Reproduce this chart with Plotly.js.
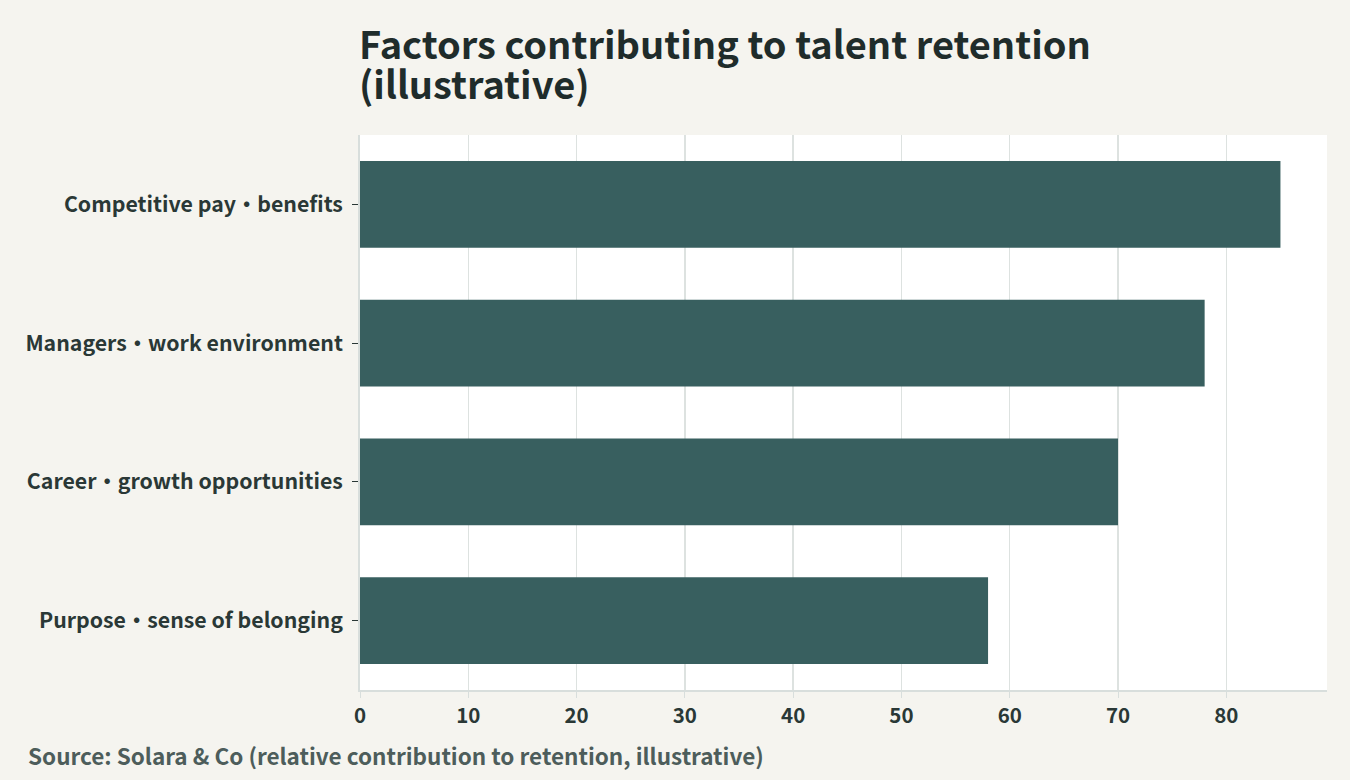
<!DOCTYPE html>
<html>
<head>
<meta charset="utf-8">
<script src="https://cdn.plot.ly/plotly-3.0.1.min.js"></script>
<style>
  html, body { margin: 0; padding: 0; background: #f5f4ef; }
  #chart { width: 1350px; height: 780px; }
</style>
</head>
<body>
<div id="chart"></div>
<script>
// factors, top to bottom as shown
var factors = [
  'Competitive pay・benefits',
  'Managers・work environment',
  'Career・growth opportunities',
  'Purpose・sense of belonging'
];
var contribution = [85, 78, 70, 58];
var tickVals = [0, 10, 20, 30, 40, 50, 60, 70, 80];
// title split in two lines, the reference sets them tighter than plotly's <br>
var titleLines = ['Factors contributing to talent retention', '(illustrative)'];

var FONT = '"Noto Sans CJK JP", "Source Sans Pro", "Noto Sans", sans-serif';

var trace = {
  type: 'bar',
  orientation: 'h',
  x: contribution,
  y: factors,
  marker: { color: '#385f5f' },
  hoverinfo: 'x+y'
};

var titleFont = { family: FONT, size: 38, color: '#1f2c2b' };

var layout = {
  width: 1350,
  height: 780,
  paper_bgcolor: '#f5f4ef',
  plot_bgcolor: '#ffffff',
  margin: { l: 360, r: 23, t: 135, b: 90 },
  bargap: 0.375,
  showlegend: false,
  font: { family: FONT, color: '#2a3836' },
  xaxis: {
    range: [0, 89.3],
    tickvals: tickVals,
    ticks: 'outside',
    ticklen: 6,
    tickcolor: '#d8dedc',
    showgrid: true,
    gridcolor: '#dde2e0',
    gridwidth: 1.5,
    zeroline: false,
    showline: true,
    linecolor: '#d8dedc',
    linewidth: 2,
    tickfont: { family: FONT, size: 20.5, color: '#2a3836', weight: 'bold' }
  },
  yaxis: {
    autorange: 'reversed',
    ticks: 'outside',
    ticklen: 6,
    tickcolor: '#2a3836',
    showline: true,
    linecolor: '#d8dedc',
    linewidth: 2,
    showgrid: false,
    ticksuffix: ' ',
    tickfont: { family: FONT, size: 21.3, color: '#2a3836', weight: 'bold' }
  },
  annotations: [
    {
      text: '<b>' + titleLines[0] + '</b>',
      xref: 'paper', yref: 'paper', x: 0, y: 1.1675, xshift: -3,
      xanchor: 'left', yanchor: 'middle', showarrow: false,
      font: titleFont
    },
    {
      text: '<b>' + titleLines[1] + '</b>',
      xref: 'paper', yref: 'paper', x: 0, y: 1.095, xshift: -3,
      xanchor: 'left', yanchor: 'middle', showarrow: false,
      font: titleFont
    },
    {
      text: '<b>Source: Solara & Co (relative contribution to retention, illustrative)</b>',
      xref: 'paper', yref: 'paper',
      x: -0.345, y: -0.085,
      xanchor: 'left', yanchor: 'top',
      showarrow: false,
      font: { family: FONT, size: 22.5, color: '#4d5d5b' }
    }
  ]
};

Plotly.newPlot('chart', [trace], layout, { displayModeBar: false, staticPlot: true });
</script>
</body>
</html>
